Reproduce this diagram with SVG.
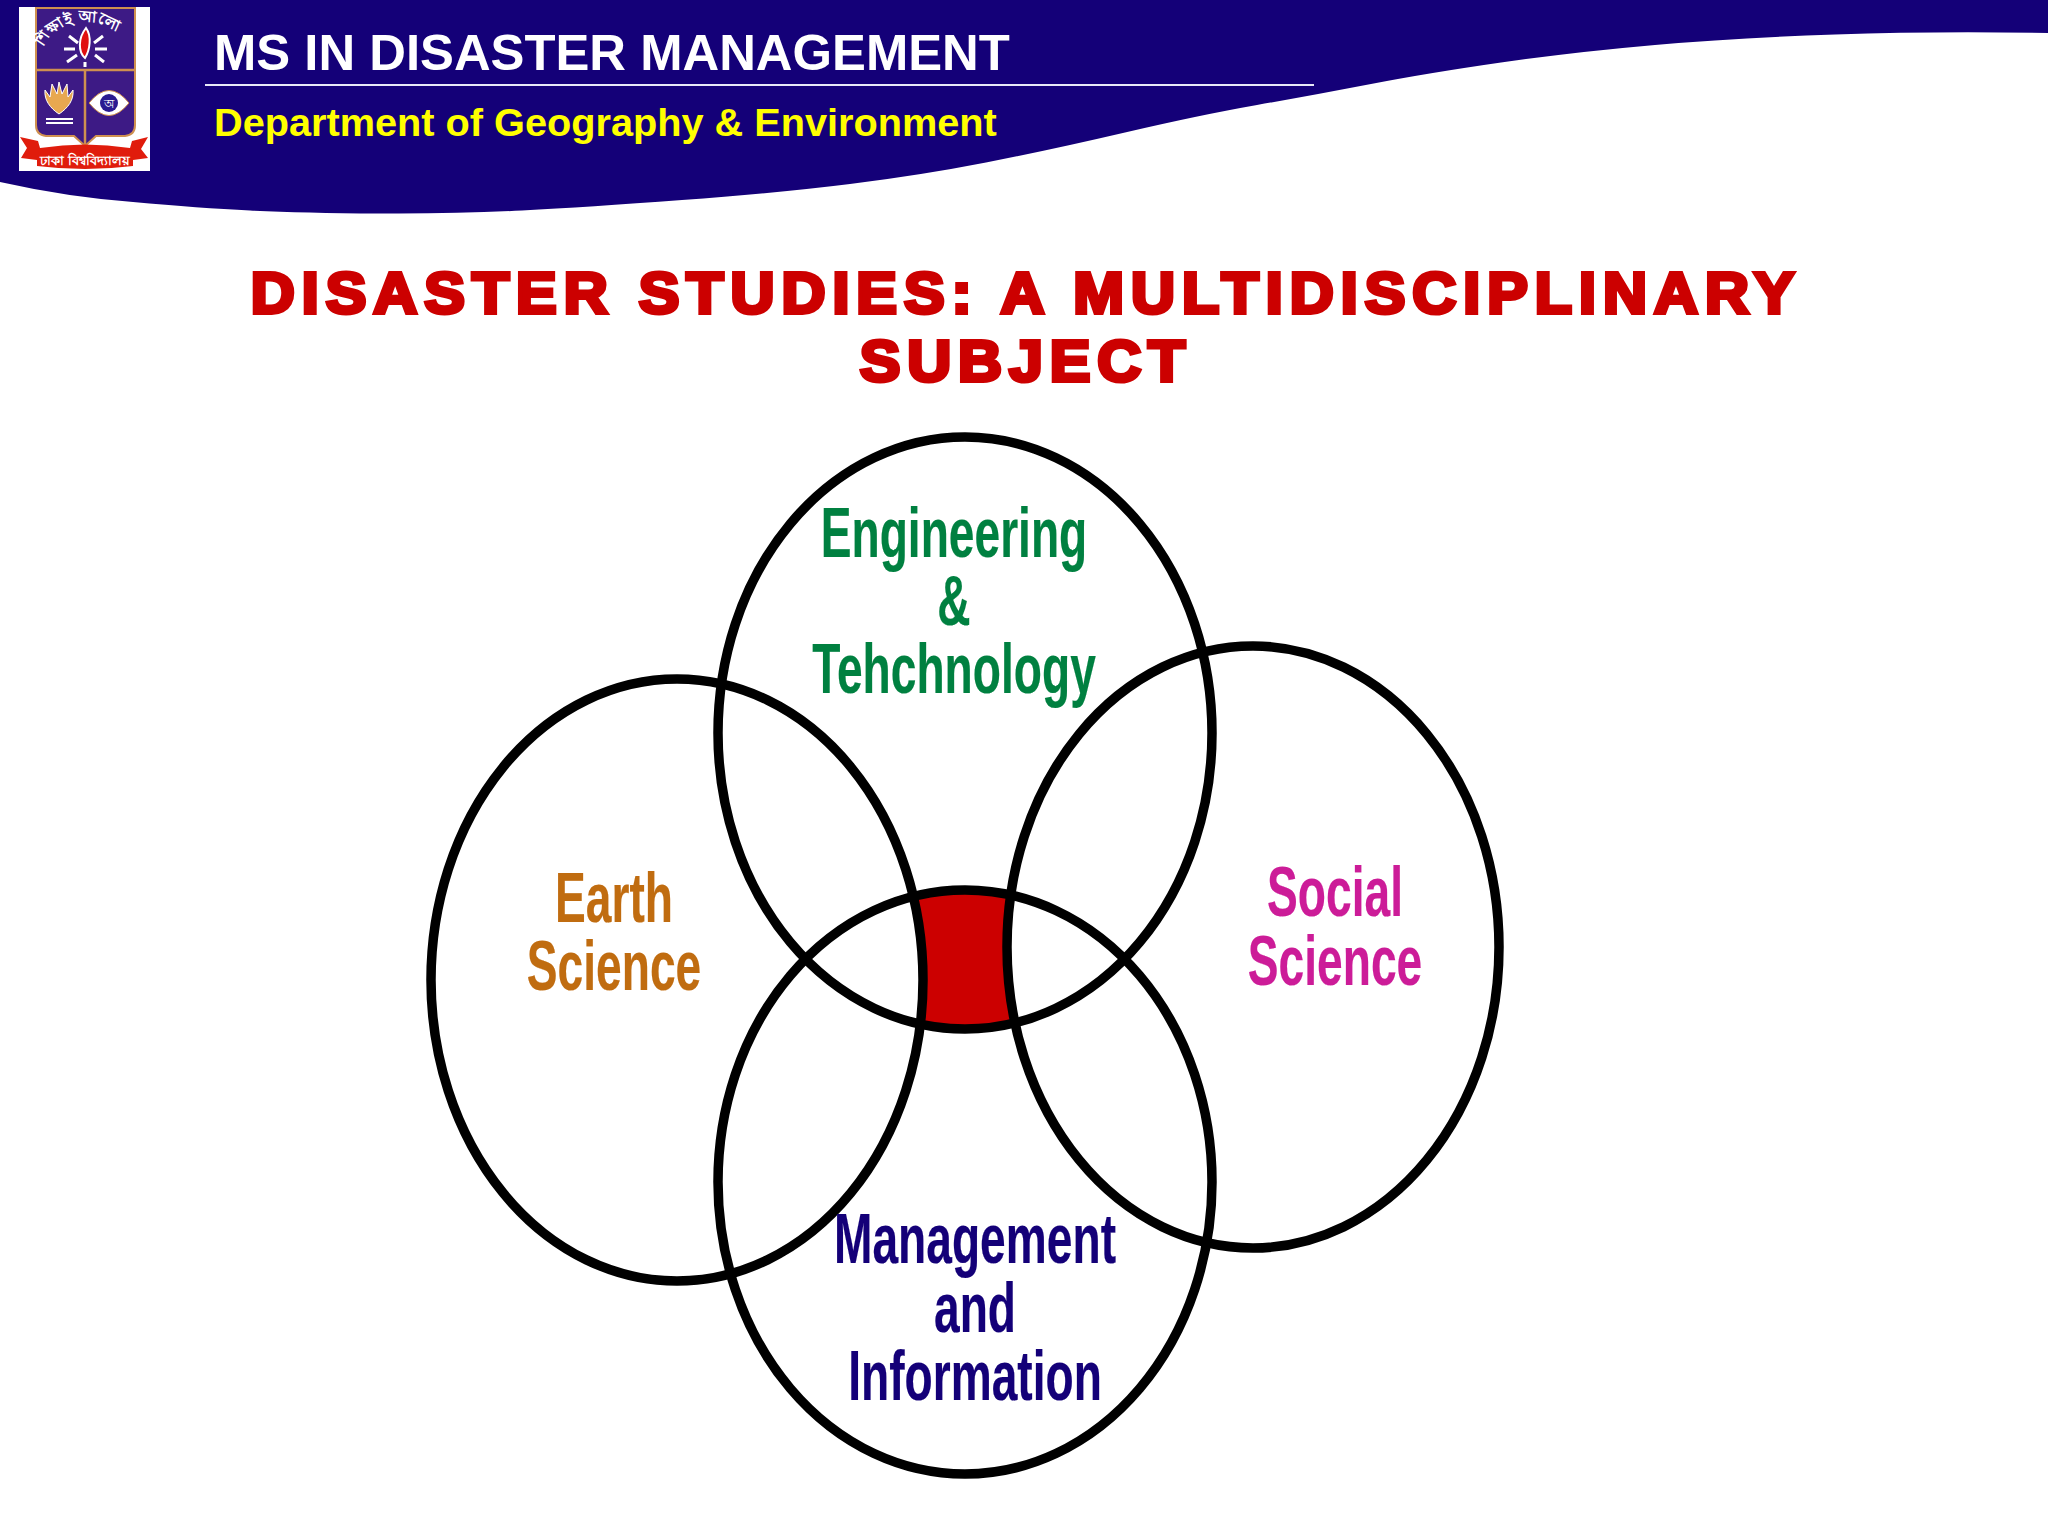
<svg xmlns="http://www.w3.org/2000/svg" width="2048" height="1536" viewBox="0 0 2048 1536">
<style>
.ring{fill:none;stroke:#000;stroke-width:9.500}
.hd{font-family:"Liberation Sans",Arial,sans-serif;font-weight:700}
.lab{font-family:"Liberation Sans",Arial,sans-serif;font-size:71px;font-weight:700;text-anchor:middle;stroke-width:.2}
.ti{font-family:"Liberation Sans",Arial,sans-serif;font-weight:700;font-size:58px;fill:#cc0000;stroke:#cc0000;stroke-width:4;text-anchor:middle}
.bn{font-family:"Noto Sans","Noto Sans CJK SC",sans-serif;fill:#fff;font-weight:700}
</style>
<defs>
<path id="arcTop" d="M42 50Q52 24 85 22Q118 24 130 50"/>
</defs>
<rect width="2048" height="1536" fill="#fff"/>
<g id="header">
<path d="M0 182Q67 197 133 202Q200 208 250 210.500Q300 213 379 213.500Q458 214 522 210.500Q587 207 682 200Q778 193 850 184Q922 175 986 162.500Q1050 150 1125 132.500Q1200 115 1257 105Q1314 95 1371 84Q1428 73 1501 62.500Q1575 52 1655 45Q1735 38 1835 34.500Q1936 31 2048 33V0H0Z" fill="#140078"/>
<rect x="205" y="84" width="1109" height="2" fill="#e8e8f8"/>
<text class="hd" x="214" y="70" font-size="50.800" fill="#fff">MS IN DISASTER MANAGEMENT</text>
<text class="hd" x="214" y="136" font-size="39.700" fill="#ffff00">Department of Geography &amp; Environment</text>
</g>
<g id="logo">
<rect x="19" y="7" width="131" height="164" fill="#fff"/>
<path d="M36 8H135V125Q135 135 125 136H96L85 146L74 136H46Q36 135 36 125Z" fill="#3d1a85" stroke="#cf9050" stroke-width="2"/>
<path d="M36 70H135M85 70V146" stroke="#cf9050" stroke-width="2.500" fill="none"/>
<path d="M86 28C92 36 90 50 85 58C78 52 78 38 86 28Z" fill="#e01010" stroke="#fff" stroke-width="2"/>
<path d="M64 49H75M95 49H107M69 36L78 43M103 36L94 43M67 62L77 55M104 62L95 55M85 62V67" stroke="#fff" stroke-width="3" fill="none"/>
<text class="bn" font-size="15.500" dy="0"><textPath href="#arcTop" startOffset="3">শিক্ষাই আলো</textPath></text>
<path d="M59 114C50 108 44 100 45 90L50 97L52 84L57 94L59 82L62 94L67 84L68 97L73 90C74 100 68 108 59 114Z" fill="#e8a850" stroke="#fff" stroke-width="1"/>
<path d="M46 119H73M46 123H73" stroke="#fff" stroke-width="2"/>
<path d="M89 103Q109 78 129 103Q109 128 89 103Z" fill="#fff" stroke="#cf9050"/>
<circle cx="109" cy="103" r="9" fill="#2a1a90"/>
<text x="109" y="108" font-family="Noto Sans,sans-serif" font-size="12" text-anchor="middle" fill="#fff">অ</text>
<path d="M20 137L38 141L40 148Q85 141 130 148L132 141L148 137L141 149L148 158L133 160V166Q85 172 37 166V160L21 158L27 148Z" fill="#e01c0c"/>
<text class="bn" x="85" y="165" font-size="13" text-anchor="middle">ঢাকা বিশ্ববিদ্যালয়</text>
</g>
<g id="title">
<text class="ti" transform="translate(1022.500 313) scale(1.05 1)" textLength="1470" lengthAdjust="spacing">DISASTER STUDIES: A MULTIDISCIPLINARY</text>
<text class="ti" transform="translate(1022.500 381) scale(1.05 1)" textLength="310" lengthAdjust="spacing">SUBJECT</text>
</g>
<g id="overlap">
<path d="M913 896.500A247 292 0 0 1 1011 895A246 301 0 0 0 1015 1023A247 296 0 0 1 920.500 1024A246 301 0 0 0 913 896.500Z" fill="#cc0000"/>
</g>
<g id="connectors">
<ellipse class="ring" cx="965" cy="733" rx="247" ry="296"/>
<ellipse class="ring" cx="965" cy="1182" rx="247" ry="292"/>
<ellipse class="ring" cx="677" cy="980" rx="246" ry="301"/>
<ellipse class="ring" cx="1253" cy="947" rx="246" ry="301"/>
</g>
<g id="engineering" fill="#008040" stroke="#008040">
<text class="lab" transform="translate(954 557) scale(.65 1)">Engineering</text>
<text class="lab" transform="translate(954 625) scale(.65 1)">&amp;</text>
<text class="lab" transform="translate(954 693) scale(.65 1)">Tehchnology</text>
</g>
<g id="earth" fill="#c06c10" stroke="#c06c10">
<text class="lab" transform="translate(614 922) scale(.65 1)">Earth</text>
<text class="lab" transform="translate(614 990) scale(.65 1)">Science</text>
</g>
<g id="social" fill="#cc1c98" stroke="#cc1c98">
<text class="lab" transform="translate(1335 916) scale(.65 1)">Social</text>
<text class="lab" transform="translate(1335 985) scale(.65 1)">Science</text>
</g>
<g id="management" fill="#140078" stroke="#140078">
<text class="lab" transform="translate(975 1263) scale(.65 1)">Management</text>
<text class="lab" transform="translate(975 1332) scale(.65 1)">and</text>
<text class="lab" transform="translate(975 1400) scale(.65 1)">Information</text>
</g>
</svg>
